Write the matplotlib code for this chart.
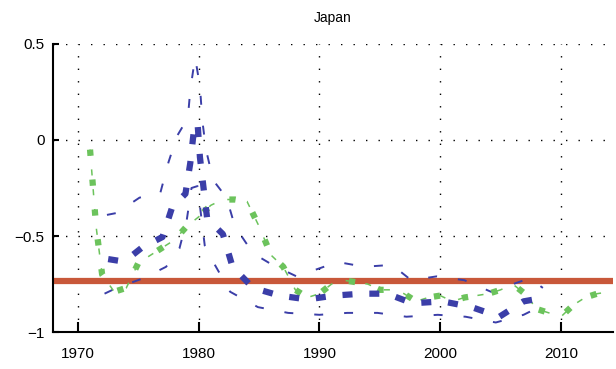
import numpy as np
import matplotlib
matplotlib.use("Agg")
from matplotlib import pyplot as plt

# 数据
green_years = [1971, 1971.5, 1972, 1973, 1974, 1975, 1976, 1977, 1978, 1979, 1980,
               1981, 1982, 1983, 1984, 1985, 1986, 1987, 1988, 1989, 1990, 1991,
               1992, 1993, 1994, 1995, 1996, 1997, 1998, 1999, 2000, 2001, 2002,
               2003, 2004, 2005, 2006, 2007, 2008, 2009, 2010, 2011, 2012, 2013, 2014]
green_vals = [-0.05, -0.45, -0.7, -0.79, -0.77, -0.64, -0.6, -0.56, -0.52, -0.45, -0.4,
              -0.34, -0.31, -0.31, -0.32, -0.45, -0.6, -0.66, -0.78, -0.82, -0.8, -0.75,
              -0.73, -0.74, -0.75, -0.78, -0.78, -0.8, -0.84, -0.82, -0.81, -0.84, -0.82,
              -0.81, -0.8, -0.78, -0.75, -0.8, -0.88, -0.9, -0.92, -0.86, -0.82, -0.8, -0.79]

blue_years = [1972.5, 1973.5, 1974.5, 1975.3, 1977.0, 1977.8, 1978.9, 1979.3, 1979.6,
              1979.9, 1980.1, 1980.4, 1980.7, 1982.0, 1982.8, 1984.5, 1986.7, 1989.0,
              1991.2, 1993.5, 1995.6, 1997.7, 2000.2, 2002.6, 2004.9, 2006.9, 2007.8]
blue_mid = [-0.62, -0.63, -0.6, -0.56, -0.505, -0.35, -0.28, -0.12, 0.05,
            0.09, -0.09, -0.25, -0.41, -0.49, -0.66, -0.77, -0.81, -0.83,
            -0.81, -0.8, -0.8, -0.85, -0.84, -0.87, -0.92, -0.84, -0.83]

upper_years = [1972.4, 1973.2, 1975.1, 1976.8, 1977.5, 1978.2, 1979.1, 1979.3, 1979.7,
               1980.1, 1980.3, 1980.6, 1981.2, 1982.3, 1983.0, 1984.5, 1986.1, 1988.1,
               1991.5, 1993.7, 1996.0, 1997.6, 1999.7, 2002.0, 2004.2, 2007.4, 2008.5]
upper_vals = [-0.39, -0.38, -0.3, -0.28, -0.115, 0.02, 0.115, 0.26, 0.43,
              0.28, 0.1, -0.05, -0.21, -0.3, -0.45, -0.59, -0.65, -0.71,
              -0.635, -0.66, -0.65, -0.73, -0.71, -0.73, -0.79, -0.72, -0.77]

lower_years = [1972.2, 1973.2, 1975.4, 1977.3, 1978.4, 1979.0, 1979.4, 1979.9, 1980.5,
               1981.2, 1982.6, 1984.9, 1987.4, 1990.0, 1992.3, 1994.8, 1997.2, 1999.8,
               2002.1, 2004.6, 2006.9, 2008.5]
lower_vals = [-0.8, -0.77, -0.72, -0.66, -0.565, -0.42, -0.25, -0.24, -0.55,
              -0.635, -0.79, -0.87, -0.9, -0.91, -0.9, -0.9, -0.92, -0.91,
              -0.92, -0.95, -0.91, -0.86]

ref_level = -0.735
x_ticks = [1970, 1980, 1990, 2000, 2010]
y_ticks = [-1, -0.5, 0, 0.5]

plt.rcParams['font.family'] = ['Liberation Sans', 'DejaVu Sans']

fig = plt.figure(figsize=(6.16, 3.69), dpi=100)
ax = fig.add_axes([0.086, 0.100, 0.909, 0.781])

blue = '#3b3ea8'
green = '#6cc35c'
orange = '#c8583a'

ax.axhline(ref_level, color=orange, linewidth=4.5, zorder=2)

# 置信区间（细虚线）与中线（粗虚线）
ax.plot(upper_years, upper_vals, color=blue, linewidth=1.4, dashes=(4.6, 10.8), zorder=3)
ax.plot(lower_years, lower_vals, color=blue, linewidth=1.4, dashes=(4.6, 10.8), zorder=3)
ax.plot(blue_years, blue_mid, color=blue, linewidth=4.5, dashes=(1.6, 2.7), zorder=4)

ax.plot(green_years, green_vals, color=green, linewidth=1.1, dashes=(4, 9), zorder=3)
ax.plot(green_years, green_vals, color=green, linewidth=4.5, dashes=(1.0, 3.8), zorder=3)

ax.set_xlim(1967.93, 2014.3)
ax.set_ylim(-1, 0.5)
ax.set_xticks(x_ticks)
ax.set_yticks(y_ticks)
ax.set_yticklabels(['\u22121', '\u22120.5', '0', '0.5'])

ax.grid(True, color='black', linewidth=1.0, linestyle=(0, (1, 8)))
ax.tick_params(axis='x', direction='in', length=7, width=1.5, labelsize=11, pad=11)
ax.tick_params(axis='y', direction='in', length=4, width=1.5, labelsize=11, pad=6)

for s in ['top', 'right']:
    ax.spines[s].set_visible(False)
for s in ['left', 'bottom']:
    ax.spines[s].set_linewidth(1.5)

ax.set_title('Japan', fontsize=10, pad=16)

fig.savefig('out.png', dpi=100)
